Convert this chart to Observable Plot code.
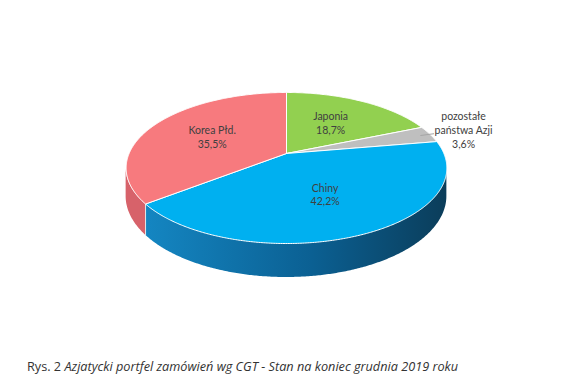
<!DOCTYPE html>
<html>
<head>
<meta charset="utf-8">
<script src="https://cdn.jsdelivr.net/npm/d3@7"></script>
<script src="https://cdn.jsdelivr.net/npm/@observablehq/plot@0.6"></script>
<style>
  html, body { margin: 0; padding: 0; background: #fff; }
  #chart svg { display: block; }
  #caption { font-family: "Open Sans", sans-serif; font-size: 12.7px; color: #333; padding-left: 27px; margin-top: 17px; line-height: 18px; white-space: nowrap; }
</style>
</head>
<body>
<div id="chart"></div>
<div id="caption">Rys. 2 <i>Azjatycki portfel zamówień wg CGT - Stan na koniec grudnia 2019 roku</i></div>
<script>
// ---- data ----
const categories = ["Japonia", "pozostałe państwa Azji", "Chiny", "Korea Płd."];
const shares = [18.7, 3.6, 42.2, 35.5];
const labelLines = [["Japonia", "18,7%"], ["pozostałe", "państwa Azji", "3,6%"], ["Chiny", "42,2%"], ["Korea Płd.", "35,5%"]];

// ---- styles ----
const topColors = ["#92D050", "#BFBFBF", "#00B0F0", "#F77A7E"];
const wallColors = ["#6E9E3C", "#8F8F8F", "url(#chinyWall)", "#D7626A"];
const outside = [false, true, false, false];

const W = 576, H = 340;
const P = {cx: 286, cy: 153, D: 5.21, A: 820, B: 379, Hh: 143};
function proj(r, phi, h) {
  const u = r * Math.sin(phi), v = -r * Math.cos(phi);
  const d = P.D - v;
  return [P.cx + P.A * u / d, P.cy + (P.B * v + P.Hh * h) / d];
}

const total = d3.sum(shares);
let acc = 0;
const slices = shares.map((s, i) => {
  const a0 = acc / total * 2 * Math.PI; acc += s;
  return {i, name: categories[i], a0, a1: acc / total * 2 * Math.PI};
});

function sample(a0, a1) {
  const n = Math.max(2, Math.ceil((a1 - a0) / (Math.PI / 360)));
  return d3.range(n + 1).map(k => a0 + (a1 - a0) * k / n);
}

// top faces
const topRows = [];
for (const s of slices) {
  const c = proj(0, 0, 0);
  topRows.push({i: s.i, x: c[0], y: c[1]});
  for (const a of sample(s.a0, s.a1)) { const p = proj(1, a, 0); topRows.push({i: s.i, x: p[0], y: p[1]}); }
  topRows.push({i: s.i, x: c[0], y: c[1]});
}

// walls (visible front part)
const phiMin = Math.acos(-1 / P.D), phiMax = 2 * Math.PI - phiMin;
const wallRows = [];
const seps = [];
for (const s of slices) {
  const lo = Math.max(s.a0, phiMin), hi = Math.min(s.a1, phiMax);
  if (lo >= hi) continue;
  for (const a of sample(lo, hi)) {
    wallRows.push({i: s.i, x: proj(1, a, 0)[0], y1: proj(1, a, 0)[1], y2: proj(1, a, 1)[1]});
  }
  if (s.a0 > phiMin && s.a0 < phiMax) seps.push({x: proj(1, s.a0, 0)[0], y1: proj(1, s.a0, 0)[1], y2: proj(1, s.a0, 1)[1]});
}

// labels
const labels = slices.map(s => {
  const mid = (s.a0 + s.a1) / 2;
  const p = proj(outside[s.i] ? 1.25 : 0.55, mid, 0);
  return {x: p[0], y: p[1], text: labelLines[s.i].join("\n")};
});
const leaders = slices.filter(s => outside[s.i]).map(s => {
  const mid = (s.a0 + s.a1) / 2;
  const a = proj(0.93, mid, 0), b = proj(1.03, mid, 0);
  return {x1: a[0], y1: a[1], x2: b[0], y2: b[1]};
});

const defs = () => {
  const g = d3.create("svg:defs");
  const lg = g.append("linearGradient").attr("id", "chinyWall").attr("x1", 0).attr("x2", 1).attr("y1", 0).attr("y2", 0);
  lg.append("stop").attr("offset", "0%").attr("stop-color", "#1486C2");
  lg.append("stop").attr("offset", "55%").attr("stop-color", "#0B6093");
  lg.append("stop").attr("offset", "100%").attr("stop-color", "#0B3D5A");
  return g.node();
};

const marks = [defs];
for (const s of slices) {
  const rows = wallRows.filter(r => r.i === s.i);
  if (rows.length) marks.push(Plot.areaY(rows, {x: "x", y1: "y1", y2: "y2", fill: wallColors[s.i], curve: "linear"}));
}
marks.push(Plot.link(seps, {x1: "x", x2: "x", y1: "y1", y2: "y2", stroke: "#e8e8e8", strokeWidth: 1}));
for (const s of slices) {
  marks.push(Plot.line(topRows.filter(r => r.i === s.i), {x: "x", y: "y", fill: topColors[s.i], stroke: "#ffffff", strokeWidth: 1, strokeLinejoin: "round", curve: "linear"}));
}
marks.push(Plot.link(leaders, {x1: "x1", y1: "y1", x2: "x2", y2: "y2", stroke: "#a6a6a6", strokeWidth: 1}));
marks.push(Plot.text(labels, {x: "x", y: "y", text: "text", fontSize: 10.5, fontFamily: "Lato, sans-serif", fill: "#404040", lineHeight: 1.3}));

const chart = Plot.plot({
  width: W, height: H,
  margin: 0,
  x: {domain: [0, W], range: [0, W], axis: null},
  y: {domain: [0, H], range: [0, H], axis: null},
  style: {background: "#fff"},
  marks
});
document.getElementById("chart").appendChild(chart);
</script>
</body>
</html>
